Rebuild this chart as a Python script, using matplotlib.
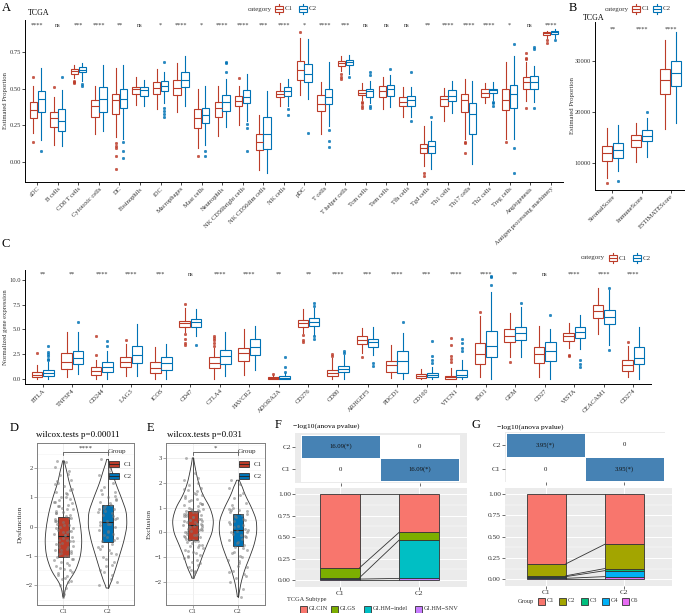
import matplotlib
matplotlib.use("Agg")
import matplotlib.pyplot as plt
import numpy as np
from matplotlib.patches import Rectangle
from matplotlib.colors import LinearSegmentedColormap
from matplotlib.ticker import MultipleLocator

W, H = 685, 613
RED, BLUE = "#BC3C29", "#0072B5"
INK = "#333333"

plt.rcParams["font.family"] = ["Liberation Serif", "DejaVu Serif"]
plt.rcParams["axes.unicode_minus"] = True

# ---------------- A: immune signatures (TCGA) ----------------
a_cats = ["aDC", "B cells", "CD8 T cells", "Cytotoxic cells", "DC", "Eosinophils", "iDC",
          "Macrophages", "Mast cells", "Neutrophils", "NK CD56bright cells", "NK CD56dim cells",
          "NK cells", "pDC", "T cells", "T helper cells", "Tcm cells", "Tem cells", "Tfh cells",
          "Tgd cells", "Th1 cells", "Th17 cells", "Th2 cells", "Treg cells", "Angiogenesis",
          "Antigen processing machinery"]
a_sig = ["****", "ns", "***", "****", "**", "ns", "*", "****", "*", "****", "****", "***", "****",
         "*", "****", "***", "ns", "ns", "ns", "**", "****", "****", "****", "*", "ns", "****"]
# (lower whisker, q1, median, q3, upper whisker)
a_c1 = [(0.20, 0.30, 0.355, 0.41, 0.52), (0.12, 0.24, 0.30, 0.34, 0.44), (0.57, 0.60, 0.62, 0.63, 0.66),
        (0.19, 0.31, 0.38, 0.42, 0.52), (0.17, 0.33, 0.42, 0.46, 0.64), (0.39, 0.46, 0.495, 0.51, 0.575),
        (0.36, 0.46, 0.505, 0.545, 0.63), (0.34, 0.455, 0.505, 0.56, 0.675), (0.095, 0.23, 0.30, 0.36, 0.50),
        (0.18, 0.305, 0.365, 0.41, 0.52), (0.255, 0.38, 0.415, 0.45, 0.52), (-0.05, 0.085, 0.14, 0.19, 0.32),
        (0.385, 0.44, 0.465, 0.485, 0.535), (0.455, 0.56, 0.625, 0.685, 0.84), (0.195, 0.35, 0.395, 0.455, 0.545),
        (0.62, 0.652, 0.67, 0.686, 0.72), (0.42, 0.455, 0.47, 0.49, 0.54), (0.36, 0.445, 0.485, 0.52, 0.58),
        (0.31, 0.38, 0.41, 0.44, 0.51), (-0.025, 0.06, 0.095, 0.125, 0.245), (0.28, 0.38, 0.43, 0.45, 0.505),
        (0.16, 0.34, 0.42, 0.46, 0.565), (0.405, 0.445, 0.467, 0.495, 0.54), (0.155, 0.355, 0.42, 0.495, 0.68),
        (0.415, 0.50, 0.545, 0.575, 0.68), (0.845, 0.862, 0.875, 0.88, 0.89)]
a_c1_out = [[0.58, 0.14], [0.51], [0.55, 0.545, 0.54], [], [0.13, 0.11, 0.10, 0.04, -0.045], [], [], [],
            [0.04], [], [0.57], [], [], [0.885], [], [0.60, 0.58, 0.565], [0.41, 0.40, 0.385, 0.37], [],
            [], [-0.075, -0.09], [], [0.14, 0.13, 0.06], [], [0.135], [0.74, 0.71, 0.70, 0.37], [0.83, 0.81]]
a_c2 = [(0.15, 0.34, 0.43, 0.48, 0.64), (0.11, 0.21, 0.28, 0.36, 0.49), (0.55, 0.61, 0.625, 0.645, 0.675),
        (0.21, 0.34, 0.43, 0.51, 0.66), (0.16, 0.37, 0.43, 0.50, 0.66), (0.38, 0.45, 0.49, 0.51, 0.56),
        (0.40, 0.48, 0.52, 0.55, 0.615), (0.38, 0.51, 0.555, 0.61, 0.72), (0.12, 0.265, 0.32, 0.37, 0.52),
        (0.24, 0.35, 0.41, 0.455, 0.565), (0.28, 0.40, 0.44, 0.49, 0.60), (-0.07, 0.09, 0.195, 0.31, 0.48),
        (0.385, 0.45, 0.485, 0.51, 0.565), (0.43, 0.545, 0.60, 0.665, 0.835), (0.245, 0.395, 0.445, 0.50, 0.68),
        (0.60, 0.657, 0.677, 0.69, 0.73), (0.40, 0.445, 0.48, 0.50, 0.55), (0.375, 0.45, 0.495, 0.525, 0.59),
        (0.31, 0.38, 0.42, 0.45, 0.51), (-0.045, 0.065, 0.11, 0.145, 0.28), (0.335, 0.415, 0.45, 0.49, 0.55),
        (-0.01, 0.195, 0.33, 0.405, 0.55), (0.42, 0.467, 0.49, 0.50, 0.546), (0.16, 0.37, 0.46, 0.525, 0.72),
        (0.41, 0.50, 0.545, 0.585, 0.65), (0.845, 0.87, 0.88, 0.89, 0.90)]
a_c2_out = [[0.08], [0.58], [0.53, 0.52], [], [0.14, 0.08, 0.03], [], [0.68, 0.37, 0.35, 0.33, 0.31], [],
            [0.08, 0.045], [0.68, 0.67, 0.615], [0.26, 0.23, 0.08], [], [0.36, 0.32], [0.20],
            [0.22, 0.145, 0.105], [0.575], [0.61, 0.59, 0.38, 0.37], [0.63], [0.61, 0.28], [0.305], [], [],
            [0.41, 0.40, 0.38], [0.80, 0.095, -0.07], [0.78, 0.765, 0.37], [0.83]]

# ---------------- B: ESTIMATE scores ----------------
b_cats = ["StromalScore", "ImmuneScore", "ESTIMATEScore"]
b_sig = ["**", "****", "****"]
b_c1 = [(6920, 10390, 11970, 13280, 16750), (10200, 13150, 14460, 15380, 17740), (16560, 23440, 26260, 28360, 34130)]
b_c1_out = [[5930], [], []]
b_c2 = [(8430, 10850, 12490, 13800, 17410), (11180, 14330, 15250, 16430, 18720), (17870, 25080, 27700, 30070, 35770)]
b_c2_out = [[6460], [20030], []]

# ---------------- C: immune checkpoint genes ----------------
c_cats = ["BTLA", "TNFSF4", "CD244", "LAG3", "ICOS", "CD47", "CTLA4", "HAVCR2", "ADORA2A", "CD276", "CD80",
          "ARHGEF5", "PDCD1", "CD160", "VTCN1", "IDO1", "GEM", "CD27", "VISTA", "CEACAM1", "CD274"]
c_sig = ["**", "**", "****", "****", "***", "ns", "****", "****", "**", "**", "****", "***", "****", "***",
         "****", "****", "**", "ns", "****", "****", "****"]
c_c1 = [(0.0, 0.17, 0.45, 0.7, 1.45), (0.25, 1.05, 1.75, 2.6, 4.7), (0.0, 0.4, 0.77, 1.17, 1.9),
        (0.27, 1.2, 1.7, 2.2, 3.55), (0.0, 0.6, 1.15, 1.7, 3.25), (4.75, 5.3, 5.65, 5.9, 7.15),
        (0.0, 1.14, 1.6, 2.18, 3.1), (0.45, 1.8, 2.6, 3.15, 5.0), (0.0, 0.03, 0.1, 0.2, 0.45),
        (4.6, 5.3, 5.7, 5.97, 7.1), (0.0, 0.27, 0.6, 0.95, 2.1), (2.65, 3.5, 3.9, 4.3, 5.1),
        (0.07, 0.68, 1.4, 1.85, 3.4), (0.0, 0.14, 0.35, 0.47, 1.0), (0.0, 0.03, 0.17, 0.3, 1.08),
        (0.25, 1.5, 2.55, 3.6, 6.4), (2.2, 3.7, 4.3, 5.05, 6.7), (0.24, 1.65, 2.5, 3.2, 5.35),
        (3.1, 3.8, 4.3, 4.6, 5.7), (4.55, 6.2, 6.9, 7.5, 9.2), (0.24, 0.85, 1.4, 1.9, 3.35)]
c_c1_out = [[2.6], [], [2.45, 4.3], [3.95], [], [4.5, 4.0, 3.6, 3.4, 7.6], [3.3, 3.6, 3.9, 4.1, 4.3], [],
            [0.55], [4.4, 3.9, 3.7], [2.35, 2.55], [2.2], [], [], [1.75, 2.0, 2.3, 3.4, 4.1], [6.75], [1.75],
            [], [2.4, 2.3], [], [3.75]]
c_c2 = [(0.0, 0.33, 0.6, 0.87, 1.7), (0.5, 1.5, 2.1, 2.85, 4.7), (0.03, 0.7, 1.2, 1.7, 2.8),
        (0.27, 1.6, 2.4, 3.3, 5.6), (0.0, 0.87, 1.57, 2.2, 3.55), (4.3, 5.2, 5.77, 6.07, 7.1),
        (0.27, 1.55, 2.35, 2.9, 4.7), (0.95, 2.45, 3.2, 4.0, 5.4), (0.0, 0.03, 0.13, 0.27, 0.65),
        (4.45, 5.4, 5.8, 6.15, 7.2), (0.0, 0.67, 1.0, 1.35, 2.4), (2.45, 3.2, 3.7, 4.0, 5.25),
        (0.0, 0.64, 1.85, 2.87, 4.6), (0.0, 0.24, 0.44, 0.64, 1.25), (0.0, 0.17, 0.4, 0.9, 1.9),
        (0.0, 2.2, 3.3, 4.85, 8.75), (2.2, 3.95, 4.65, 5.3, 7.25), (0.0, 1.8, 2.85, 3.7, 5.05),
        (3.0, 4.1, 4.7, 5.25, 6.5), (3.45, 5.55, 6.3, 7.0, 9.0), (0.0, 1.5, 2.1, 3.2, 5.3)]
c_c2_out = [[1.9, 2.0, 2.3, 2.5, 2.7, 3.3], [5.75], [3.3, 3.8], [], [], [3.4], [], [], [0.75, 1.25, 2.25],
            [4.3, 4.0, 7.4, 7.65], [2.6, 2.85], [1.6, 1.3], [5.75], [1.6, 1.9, 2.3, 3.8],
            [2.85, 3.1, 3.6, 4.05], [9.5, 10.25, 10.4], [7.7], [6.45], [1.9, 1.5, 1.25], [9.2, 2.9], []]

# ---------------- D / E: TIDE dysfunction & exclusion ----------------
groups = ["C1", "C2"]
d_box = [(-2.4, -1.05, -0.32, 0.32, 2.25), (-2.1, -0.52, 0.17, 0.73, 2.3)]
d_c1_vy = [-2.4, -2.0, -1.5, -1.0, -0.5, 0.0, 0.5, 1.0, 1.5, 2.0, 2.25]
d_c1_vw = [0.01, 0.06, 0.28, 0.39, 0.42, 0.39, 0.33, 0.24, 0.13, 0.06, 0.01]
d_c2_vy = [-2.1, -2.0, -1.5, -1.0, -0.5, 0.0, 0.5, 1.0, 1.5, 2.0, 2.3]
d_c2_vw = [0.01, 0.06, 0.17, 0.27, 0.37, 0.44, 0.43, 0.31, 0.18, 0.08, 0.01]
d_c1_pts = [2.25, 2.2, 2.05, 1.9, 1.75, 1.6, 1.5, 1.4, 1.3, 1.2,
            1.1, 1.0, 0.95, 0.85, 0.75, 0.7, 0.6, 0.5, 0.45, 0.35,
            0.3, 0.2, 0.15, 0.05, 0.0, -0.05, -0.1, -0.2, -0.25, -0.3,
            -0.35, -0.45, -0.5, -0.55, -0.6, -0.7, -0.75, -0.8, -0.9, -0.95,
            -1.0, -1.05, -1.1, -1.2, -1.3, -1.35, -1.45, -1.5, -1.6, -1.7,
            -1.8, -1.9, -2.0, -2.1, -2.3, -2.4, 0.25, -0.15, 0.55, -0.65,
            1.8, 1.45, 1.15, 0.9, 0.8, 0.65, 0.4, 0.1, -0.4, -0.85,
            -1.15, -1.25, -1.4, -1.55, -1.65, -1.75, -0.05, 0.3, -0.2, -0.5,
            -0.7, 0.6, 0.85, 1.25, -0.9, -1.0, 0.2, -0.3, -0.6, -1.85,
            1.55, 0.05, -0.15, 0.45, -0.45, -0.8, -1.1, 0.7, 1.0, -2.2]
d_c2_pts = [2.3, 2.0, 1.75, 1.5, 1.35, 1.2, 1.1, 1.0, 0.9, 0.85,
            0.75, 0.7, 0.6, 0.5, 0.45, 0.4, 0.3, 0.2, 0.15, 0.1,
            0.0, -0.1, -0.15, -0.25, -0.3, -0.4, -0.5, -0.6, -0.7, -0.8,
            -0.95, -1.05, -1.2, -1.35, -1.5, -1.65, -1.8, -2.0, 0.25, 0.65,
            1.9, 1.25, 0.95, 0.55, 0.35, 0.05, -0.2, -0.45, -0.65, -0.9,
            -1.1, -1.3, -1.55, 0.8, 0.1, -0.35, 0.6, 1.05, -0.75, -1.9]
e_box = [(-1.85, -0.3, 0.28, 0.85, 3.0), (-2.6, -0.55, 0.08, 0.75, 2.1)]
e_c1_vy = [-1.85, -1.5, -1.0, -0.5, 0.0, 0.5, 1.0, 1.5, 2.0, 2.5, 3.0]
e_c1_vw = [0.01, 0.11, 0.2, 0.31, 0.43, 0.46, 0.38, 0.22, 0.12, 0.06, 0.01]
e_c2_vy = [-2.6, -2.0, -1.5, -1.0, -0.5, 0.0, 0.5, 1.0, 1.5, 2.0, 2.1]
e_c2_vw = [0.01, 0.07, 0.15, 0.26, 0.36, 0.42, 0.41, 0.30, 0.16, 0.06, 0.01]
e_c1_pts = [3.0, 2.4, 2.1, 2.0, 1.9, 1.8, 1.7, 1.6, 1.5, 1.45,
            1.35, 1.3, 1.2, 1.1, 1.05, 1.0, 0.95, 0.9, 0.85, 0.8,
            0.7, 0.65, 0.6, 0.55, 0.5, 0.45, 0.4, 0.35, 0.3, 0.25,
            0.2, 0.15, 0.1, 0.05, 0.0, -0.05, -0.1, -0.15, -0.2, -0.3,
            -0.35, -0.4, -0.5, -0.55, -0.6, -0.7, -0.8, -0.9, -1.0, -1.1,
            -1.2, -1.3, -1.4, -1.55, -1.7, -1.8, 0.75, 0.32, -0.25, 1.15,
            2.2, 1.75, 1.55, 1.25, 1.15, 0.95, 0.85, 0.75, 0.6, 0.55,
            0.45, 0.35, 0.2, 0.1, 0.0, -0.1, -0.2, -0.35, -0.45, -0.65,
            -0.75, -0.85, -1.05, -1.25, -1.5, 0.9, 0.65, 0.4, 0.25, 0.15,
            -0.05, -0.3, -0.5, 1.4, 1.65, 0.5, 0.3, -0.95, -1.6, 0.8]
e_c2_pts = [2.1, 1.95, 1.8, 1.6, 1.4, 1.2, 1.0, 0.9, 0.85, 0.8,
            0.7, 0.6, 0.5, 0.4, 0.3, 0.2, 0.1, 0.05, 0.0, -0.1,
            -0.2, -0.3, -0.4, -0.5, -0.6, -0.7, -0.85, -1.0, -1.1, -1.25,
            -1.4, -1.55, -1.7, -1.85, -2.0, -2.3, -2.6, 0.95, -0.15, 0.45,
            1.5, 1.1, 0.75, 0.65, 0.55, 0.35, 0.25, 0.15, -0.05, -0.25,
            -0.45, -0.65, -0.8, -0.95, -1.15, -1.35, -1.6, -1.75, 0.9, 0.0]
jitter_dx = [-0.15, 0.05, -0.2, 0.12, -0.08, 0.18, -0.12, 0.02, 0.2, -0.18,
             0.08, -0.05, 0.15, -0.21, 0.1, -0.1, 0.22, -0.02, -0.16, 0.06,
             0.17, -0.19, 0.0, 0.13, -0.07, 0.21, -0.13, 0.09, -0.22, 0.03,
             0.19, -0.11, 0.14, -0.04, -0.17, 0.11, 0.07, -0.2, 0.16, -0.09,
             0.04, -0.14, 0.2, -0.06, 0.12, -0.18, 0.01, 0.15, -0.12, 0.08,
             -0.03, 0.1, -0.08, 0.05, 0.02, -0.01, -0.2, 0.18, -0.16, 0.21,
             0.11, -0.19, 0.06, -0.1, 0.2, -0.04, 0.14, -0.15, 0.0, 0.17,
             -0.21, 0.09, -0.07, 0.19, -0.13, 0.03, -0.17, 0.12, -0.02, 0.22,
             -0.11, 0.07, -0.2, 0.15, -0.05, 0.1, -0.16, 0.04, -0.09, 0.18,
             -0.14, 0.01, 0.13, -0.18, 0.08, -0.06, 0.21, -0.12, 0.05, -0.01]

# ---------------- F / G: alluvial + anova heatmap ----------------
f_heat = [[0, 16.09], [16.09, 0]]          # rows C1, C2 ; columns C1, C2
f_levels = ["GI.CIN", "GI.GS", "GI.HM\u2212indel", "GI.HM\u2212SNV"]
f_colors = ["#F8766D", "#7CAE00", "#00BFC4", "#C77CFF"]
f_props = [[0.855, 0.115, 0.018, 0.012], [0.445, 0.09, 0.445, 0.02]]
g_heat = [[0, 3.95], [3.95, 0]]
g_levels = ["C1", "C2", "C3", "C4", "C6"]
g_colors = ["#F8766D", "#A3A500", "#00BF7D", "#00B0F6", "#E76BF3"]
g_props = [[0.82, 0.14, 0.01, 0.02, 0.01], [0.59, 0.285, 0.025, 0.07, 0.03]]


def rect(l, t, r, b):
    return [l / W, 1 - b / H, (r - l) / W, (b - t) / H]


def boxes(ax, stats, outs, pos, color, width):
    bx = [dict(whislo=s[0], q1=s[1], med=s[2], q3=s[3], whishi=s[4], fliers=o) for s, o in zip(stats, outs)]
    ax.bxp(bx, positions=pos, widths=width, patch_artist=True, showcaps=False, manage_ticks=False,
           boxprops=dict(facecolor="white", edgecolor=color, linewidth=0.8),
           medianprops=dict(color=color, linewidth=0.8),
           whiskerprops=dict(color=color, linewidth=0.8),
           flierprops=dict(marker="o", markersize=1.8, markerfacecolor=color, markeredgecolor=color,
                           markeredgewidth=0.4, alpha=0.85))


def classic(ax, size=4.7):
    ax.spines[["top", "right"]].set_visible(False)
    ax.spines[["left", "bottom"]].set_linewidth(0.7)
    ax.tick_params(length=2, width=0.5, labelsize=size, labelcolor=INK, pad=1)


def bw(ax):
    for s in ax.spines.values():
        s.set_color("#7F7F7F")
        s.set_linewidth(0.7)
    ax.yaxis.set_minor_locator(MultipleLocator(0.5))
    ax.grid(True, which="major", color="#EBEBEB", lw=0.6)
    ax.grid(True, which="minor", axis="y", color="#F3F3F3", lw=0.4)
    ax.set_axisbelow(True)
    ax.tick_params(length=2, width=0.5, colors="#7F7F7F", labelcolor=INK, labelsize=4.8, pad=1)
    ax.tick_params(which="minor", length=0)


def gray(ax):
    ax.set_facecolor("#EBEBEB")
    for s in ax.spines.values():
        s.set_visible(False)
    ax.tick_params(length=2, width=0.5, colors=INK, labelcolor=INK, labelsize=5.3, pad=1)


fig = plt.figure(figsize=(W / 100, H / 100), dpi=100)

# ---- A ----
axA = fig.add_axes(rect(25, 20, 563, 182))
xa = np.arange(1, len(a_cats) + 1)
boxes(axA, a_c1, a_c1_out, xa - 0.19, RED, 0.36)
boxes(axA, a_c2, a_c2_out, xa + 0.19, BLUE, 0.36)
axA.set_xlim(0.4, len(a_cats) + 0.6)
axA.set_ylim(-0.133, 0.964)
axA.set_yticks([0, 0.25, 0.5, 0.75], ["0.00", "0.25", "0.50", "0.75"])
axA.set_xticks(xa, a_cats, rotation=45, ha="right", va="top", rotation_mode="anchor")
classic(axA)
for xi, s in zip(xa, a_sig):
    axA.text(xi, 0.917, s, ha="center", va="baseline", fontsize=4.5, color=INK)
axA.set_ylabel("Estimated Proportion", fontsize=4.8, color=INK)
axA.yaxis.set_label_coords(-0.031, 0.5)

# ---- B ----
axB = fig.add_axes(rect(595, 22, 688, 190))
xb = np.arange(1, len(b_cats) + 1)
boxes(axB, b_c1, b_c1_out, xb - 0.19, RED, 0.36)
boxes(axB, b_c2, b_c2_out, xb + 0.19, BLUE, 0.36)
axB.set_xlim(0.4, len(b_cats) + 0.6)
axB.set_ylim(4630, 37700)
axB.set_yticks([10000, 20000, 30000], ["10000", "20000", "30000"])
axB.set_xticks(xb, b_cats, rotation=45, ha="right", va="top", rotation_mode="anchor")
classic(axB)
for xi, s in zip(xb, b_sig):
    axB.text(xi, 35900, s, ha="center", va="baseline", fontsize=4.5, color=INK)
axB.set_ylabel("Estimated Proportion", fontsize=4.8, color=INK)
axB.yaxis.set_label_coords(-0.215, 0.5)

# ---- C ----
axC = fig.add_axes(rect(25, 270, 651, 384))
xc = np.arange(1, len(c_cats) + 1)
boxes(axC, c_c1, c_c1_out, xc - 0.19, RED, 0.36)
boxes(axC, c_c2, c_c2_out, xc + 0.19, BLUE, 0.36)
axC.set_xlim(0.4, len(c_cats) + 0.6)
axC.set_ylim(-0.5, 11.0)
axC.set_yticks([0, 2.5, 5, 7.5, 10], ["0.0", "2.5", "5.0", "7.5", "10.0"])
axC.set_xticks(xc, c_cats, rotation=45, ha="right", va="top", rotation_mode="anchor")
classic(axC)
for xi, s in zip(xc, c_sig):
    axC.text(xi, 10.4, s, ha="center", va="baseline", fontsize=4.5, color=INK)
axC.set_ylabel("Normalized gene expression", fontsize=4.8, color=INK)
axC.yaxis.set_label_coords(-0.027, 0.5)


# ---- D / E ----
def violin(ax, x, vy, vw):
    ys = np.linspace(vy[0], vy[-1], 150)
    w = np.interp(ys, vy, vw)
    w = np.convolve(np.pad(w, 6, mode="edge"), np.ones(13) / 13, mode="valid")
    ax.fill(np.r_[x - w, (x + w)[::-1]], np.r_[ys, ys[::-1]], facecolor="none",
            edgecolor="#333333", lw=0.6, zorder=2)


def tide(ax, box, vy1, vw1, vy2, vw2, pts1, pts2, ylim, yticks, ylabel, sig, ybr):
    bw(ax)
    violin(ax, 1, vy1, vw1)
    violin(ax, 2, vy2, vw2)
    for i, (s, col) in enumerate(zip(box, [RED, BLUE])):
        ax.bxp([dict(whislo=s[0], q1=s[1], med=s[2], q3=s[3], whishi=s[4], fliers=[])],
               positions=[i + 1], widths=0.23, patch_artist=True, showcaps=False, manage_ticks=False,
               boxprops=dict(facecolor=col, edgecolor="#333333", linewidth=0.6),
               medianprops=dict(color="#222222", linewidth=0.8),
               whiskerprops=dict(color="#333333", linewidth=0.6), zorder=3)
    ax.scatter(1 + np.array(jitter_dx[:len(pts1)]), pts1, s=4.5, color="#7A7A7A", alpha=0.55, lw=0, zorder=4)
    ax.scatter(2 + np.array(jitter_dx[:len(pts2)]), pts2, s=4.5, color="#7A7A7A", alpha=0.55, lw=0, zorder=4)
    ax.plot([1, 1, 2, 2], [ybr - 0.12, ybr, ybr, ybr - 0.12], color="#333333", lw=0.5, zorder=5)
    ax.text(1.5, ybr + 0.03, sig, ha="center", va="bottom", fontsize=5, color=INK)
    ax.set_xlim(0.4, 2.6)
    ax.set_ylim(*ylim)
    ax.set_yticks(yticks, [str(v).replace("-", "\u2212") for v in yticks])
    ax.set_xticks([1, 2], groups)
    ax.set_ylabel(ylabel, fontsize=5.4, color=INK, labelpad=2)


axD = fig.add_axes(rect(37, 443, 134, 605))
tide(axD, d_box, d_c1_vy, d_c1_vw, d_c2_vy, d_c2_vw, d_c1_pts, d_c2_pts, (-2.68, 2.86),
     [-2, -1, 0, 1, 2], "Dysfunction", "****", 2.56)
axE = fig.add_axes(rect(166, 443, 265, 605))
tide(axE, e_box, e_c1_vy, e_c1_vw, e_c2_vy, e_c2_vw, e_c1_pts, e_c2_pts, (-2.93, 3.6),
     [-2, -1, 0, 1, 2, 3], "Exclusion", "*", 3.25)


# ---- F / G ----
def heat(ax, mat, xlim, ylim):
    gray(ax)
    vmax = max(max(r) for r in mat)
    cmap = LinearSegmentedColormap.from_list("wb", ["white", "#4682B4"])
    ax.pcolormesh([0.5, 1.5, 2.5], [0.5, 1.5, 2.5], np.array(mat), cmap=cmap, vmin=0, vmax=vmax,
                  edgecolors="white", linewidth=0.6)
    for r, row in enumerate(mat):
        for c, v in enumerate(row):
            ax.text(c + 1, r + 1, f"{v:.2f}(*)" if v > 0 else "0", ha="center", va="center",
                    fontsize=4.8, color="#111111")
    ax.set_xlim(*xlim)
    ax.set_ylim(*ylim)
    ax.set_xticks([1, 2], ["", ""])
    ax.set_yticks([1, 2], groups)


def alluvial(ax, props, colors, xlim):
    gray(ax)
    ax.yaxis.set_minor_locator(MultipleLocator(0.125))
    ax.grid(True, which="major", color="white", lw=0.7)
    ax.grid(True, which="minor", axis="y", color="white", lw=0.35)
    ax.tick_params(which="minor", length=0)
    ax.set_axisbelow(True)
    tops = []
    for j, p in enumerate(props):
        bottom = 0.0
        edges = [0.0]
        for val, col in zip(p[::-1], colors[::-1]):
            ax.bar(j + 1, val, bottom=bottom, width=0.5, color=col, edgecolor="#333333", lw=0.6, zorder=3)
            bottom += val
            edges.append(bottom)
        tops.append(edges)
    for b1, b2 in zip(tops[0], tops[1]):
        ax.plot([1.25, 1.75], [b1, b2], color="#333333", lw=0.6, zorder=3)
    ax.set_xlim(*xlim)
    ax.set_ylim(-0.08, 1.07)
    ax.set_yticks([0, 0.25, 0.5, 0.75, 1.0], ["0.00", "0.25", "0.50", "0.75", "1.00"])
    ax.set_xticks([1, 2], groups)


axFh = fig.add_axes(rect(295, 433, 467, 483))
heat(axFh, f_heat, (0.424, 2.6), (0.41, 2.59))
axFb = fig.add_axes(rect(295, 488, 467, 587))
alluvial(axFb, f_props, f_colors, (0.43, 2.61))
axGh = fig.add_axes(rect(505, 432, 665, 482))
heat(axGh, g_heat, (0.487, 2.513), (0.46, 2.54))
axGb = fig.add_axes(rect(505, 488, 672, 586))
alluvial(axGb, g_props, g_colors, (0.47, 2.61))

# ---- annotation layer in pixel coordinates ----
ov = fig.add_axes([0, 0, 1, 1], zorder=10)
ov.set_xlim(0, W)
ov.set_ylim(H, 0)
ov.axis("off")


def box_key(x, y, edge, face="white", med=None, w=8, h=6):
    ov.add_patch(Rectangle((x - w / 2, y - h / 2), w, h, facecolor=face, edgecolor=edge, lw=0.8))
    ov.plot([x - w / 2, x + w / 2], [y, y], color=med or edge, lw=0.8)
    ov.plot([x, x], [y - h / 2 - 2, y - h / 2], color=edge, lw=0.8)
    ov.plot([x, x], [y + h / 2, y + h / 2 + 2], color=edge, lw=0.8)


def cat_legend(xr, y, k1, k2):
    ov.text(xr, y, "category", ha="right", va="center", fontsize=5, color=INK)
    box_key(k1, y, RED)
    ov.text(k1 + 6, y, "C1", ha="left", va="center", fontsize=5, color=INK)
    box_key(k2, y, BLUE)
    ov.text(k2 + 6, y, "C2", ha="left", va="center", fontsize=5, color=INK)


cat_legend(272, 9, 279, 303)
cat_legend(629, 9, 636, 657)
cat_legend(605, 258, 613, 637)

for lab, x, y in [("A", 2, 8), ("B", 569, 8), ("C", 2, 244), ("D", 10, 428), ("E", 147, 428),
                  ("F", 275, 425), ("G", 472, 425)]:
    ov.text(x, y, lab, ha="left", va="center", fontsize=9)
ov.text(28, 13, "TCGA", ha="left", va="center", fontsize=5.7)
ov.text(583, 18, "TCGA", ha="left", va="center", fontsize=5.7)
ov.text(36, 435, "wilcox.tests p=0.00011", ha="left", va="center", fontsize=6.5)
ov.text(167, 435, "wilcox.tests p=0.031", ha="left", va="center", fontsize=6.5)
ov.text(293, 426, "\u2212log10(anova pvalue)", ha="left", va="center", fontsize=5.4)
ov.text(497, 427, "\u2212log10(anova pvalue)", ha="left", va="center", fontsize=5.4)

for gx in (108, 238):
    ov.text(gx, 452, "Group", ha="left", va="center", fontsize=5.2, color=INK)
    for yy, col, lab in [(464, RED, "C1"), (476, BLUE, "C2")]:
        ov.add_patch(Rectangle((gx + 1, yy - 3), 10, 6, facecolor=col, edgecolor="#333333", lw=0.6))
        ov.plot([gx + 1, gx + 11], [yy, yy], color="#222222", lw=0.6)
        ov.text(gx + 16, yy, lab, ha="left", va="center", fontsize=5, color=INK)

ov.text(287, 599, "TCGA Subtype", ha="left", va="center", fontsize=4.6, color=INK)
for x0, lab, col in zip([300, 331, 364, 415], f_levels, f_colors):
    ov.add_patch(Rectangle((x0, 605.5), 7, 7, facecolor=col, edgecolor="#333333", lw=0.6))
    ov.text(x0 + 9, 609, lab, ha="left", va="center", fontsize=4.6, color=INK)
ov.text(534, 601, "Group", ha="right", va="center", fontsize=4.6, color=INK)
for x0, lab, col in zip([538, 559, 581, 602, 622], g_levels, g_colors):
    ov.add_patch(Rectangle((x0, 597.5), 7, 7, facecolor=col, edgecolor="#333333", lw=0.6))
    ov.text(x0 + 9, 601, lab, ha="left", va="center", fontsize=4.6, color=INK)

fig.savefig("out.png", dpi=100)
